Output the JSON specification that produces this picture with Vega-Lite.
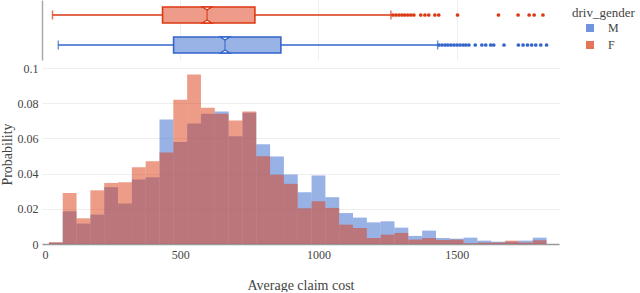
{
  "$schema": "https://vega.github.io/schema/vega-lite/v6.json",
  "padding": {"left": 0, "top": 0, "right": 0, "bottom": 0},
  "background": "white",
  "config": {
    "font": "Liberation Serif",
    "view": {"stroke": null},
    "axis": {"labelFont": "Liberation Serif", "titleFont": "Liberation Serif", "labelColor": "#444", "titleColor": "#444", "labelFontSize": 12, "titleFontSize": 14, "titleFontWeight": "normal"},
    "text": {"font": "Liberation Serif"}
  },
  "resolve": {"scale": {"color": "shared", "x": "shared"}},
  "datasets": {
    "box": [
      {"g": "F", "wlo": 38, "q1": 436, "med": 597, "q3": 770, "whi": 1262},
      {"g": "M", "wlo": 59, "q1": 476, "med": 662, "q3": 864, "whi": 1431}
    ],
    "out": [
      {"g": "F", "v": 1269}, {"g": "F", "v": 1280}, {"g": "F", "v": 1291}, {"g": "F", "v": 1302}, {"g": "F", "v": 1312}, {"g": "F", "v": 1323}, {"g": "F", "v": 1334}, {"g": "F", "v": 1345},
      {"g": "F", "v": 1370}, {"g": "F", "v": 1385}, {"g": "F", "v": 1399}, {"g": "F", "v": 1421}, {"g": "F", "v": 1435},
      {"g": "F", "v": 1503}, {"g": "F", "v": 1651}, {"g": "F", "v": 1722}, {"g": "F", "v": 1762}, {"g": "F", "v": 1780}, {"g": "F", "v": 1812},
      {"g": "M", "v": 1436}, {"g": "M", "v": 1447}, {"g": "M", "v": 1458}, {"g": "M", "v": 1468}, {"g": "M", "v": 1479}, {"g": "M", "v": 1490}, {"g": "M", "v": 1501}, {"g": "M", "v": 1512}, {"g": "M", "v": 1523}, {"g": "M", "v": 1533}, {"g": "M", "v": 1544},
      {"g": "M", "v": 1567}, {"g": "M", "v": 1591}, {"g": "M", "v": 1605}, {"g": "M", "v": 1623}, {"g": "M", "v": 1634}, {"g": "M", "v": 1671},
      {"g": "M", "v": 1723}, {"g": "M", "v": 1740}, {"g": "M", "v": 1756}, {"g": "M", "v": 1771}, {"g": "M", "v": 1786}, {"g": "M", "v": 1804}, {"g": "M", "v": 1825}
    ],
    "hist": [
      {"g": "M", "b0": 25, "b1": 75, "p": 0.0008},
      {"g": "M", "b0": 75, "b1": 125, "p": 0.0186},
      {"g": "M", "b0": 125, "b1": 175, "p": 0.0116},
      {"g": "M", "b0": 175, "b1": 225, "p": 0.0167},
      {"g": "M", "b0": 225, "b1": 275, "p": 0.0323},
      {"g": "M", "b0": 275, "b1": 325, "p": 0.023},
      {"g": "M", "b0": 325, "b1": 375, "p": 0.0366},
      {"g": "M", "b0": 375, "b1": 425, "p": 0.038},
      {"g": "M", "b0": 425, "b1": 475, "p": 0.0708},
      {"g": "M", "b0": 475, "b1": 525, "p": 0.058},
      {"g": "M", "b0": 525, "b1": 575, "p": 0.0685},
      {"g": "M", "b0": 575, "b1": 625, "p": 0.074},
      {"g": "M", "b0": 625, "b1": 675, "p": 0.0753},
      {"g": "M", "b0": 675, "b1": 725, "p": 0.0613},
      {"g": "M", "b0": 725, "b1": 775, "p": 0.0746},
      {"g": "M", "b0": 775, "b1": 825, "p": 0.0567},
      {"g": "M", "b0": 825, "b1": 875, "p": 0.0497},
      {"g": "M", "b0": 875, "b1": 925, "p": 0.0395},
      {"g": "M", "b0": 925, "b1": 975, "p": 0.0294},
      {"g": "M", "b0": 975, "b1": 1025, "p": 0.0389},
      {"g": "M", "b0": 1025, "b1": 1075, "p": 0.0266},
      {"g": "M", "b0": 1075, "b1": 1125, "p": 0.0176},
      {"g": "M", "b0": 1125, "b1": 1175, "p": 0.015},
      {"g": "M", "b0": 1175, "b1": 1225, "p": 0.0123},
      {"g": "M", "b0": 1225, "b1": 1275, "p": 0.0129},
      {"g": "M", "b0": 1275, "b1": 1325, "p": 0.0093},
      {"g": "M", "b0": 1325, "b1": 1375, "p": 0.0046},
      {"g": "M", "b0": 1375, "b1": 1425, "p": 0.0076},
      {"g": "M", "b0": 1425, "b1": 1475, "p": 0.0034},
      {"g": "M", "b0": 1475, "b1": 1525, "p": 0.003},
      {"g": "M", "b0": 1525, "b1": 1575, "p": 0.0036},
      {"g": "M", "b0": 1575, "b1": 1625, "p": 0.0019},
      {"g": "M", "b0": 1625, "b1": 1675, "p": 0.0013},
      {"g": "M", "b0": 1675, "b1": 1725, "p": 0.0013},
      {"g": "M", "b0": 1725, "b1": 1775, "p": 0.0019},
      {"g": "M", "b0": 1775, "b1": 1825, "p": 0.0036},
      {"g": "F", "b0": 25, "b1": 75, "p": 0.001},
      {"g": "F", "b0": 75, "b1": 125, "p": 0.029},
      {"g": "F", "b0": 125, "b1": 175, "p": 0.0146},
      {"g": "F", "b0": 175, "b1": 225, "p": 0.0305},
      {"g": "F", "b0": 225, "b1": 275, "p": 0.0347},
      {"g": "F", "b0": 275, "b1": 325, "p": 0.0351},
      {"g": "F", "b0": 325, "b1": 375, "p": 0.0436},
      {"g": "F", "b0": 375, "b1": 425, "p": 0.047},
      {"g": "F", "b0": 425, "b1": 475, "p": 0.052},
      {"g": "F", "b0": 475, "b1": 525, "p": 0.082},
      {"g": "F", "b0": 525, "b1": 575, "p": 0.0964},
      {"g": "F", "b0": 575, "b1": 625, "p": 0.0774},
      {"g": "F", "b0": 625, "b1": 675, "p": 0.074},
      {"g": "F", "b0": 675, "b1": 725, "p": 0.0702},
      {"g": "F", "b0": 725, "b1": 775, "p": 0.0753},
      {"g": "F", "b0": 775, "b1": 825, "p": 0.0499},
      {"g": "F", "b0": 825, "b1": 875, "p": 0.0393},
      {"g": "F", "b0": 875, "b1": 925, "p": 0.0342},
      {"g": "F", "b0": 925, "b1": 975, "p": 0.0203},
      {"g": "F", "b0": 975, "b1": 1025, "p": 0.0243},
      {"g": "F", "b0": 1025, "b1": 1075, "p": 0.0205},
      {"g": "F", "b0": 1075, "b1": 1125, "p": 0.011},
      {"g": "F", "b0": 1125, "b1": 1175, "p": 0.0091},
      {"g": "F", "b0": 1175, "b1": 1225, "p": 0.0034},
      {"g": "F", "b0": 1225, "b1": 1275, "p": 0.0053},
      {"g": "F", "b0": 1275, "b1": 1325, "p": 0.0063},
      {"g": "F", "b0": 1325, "b1": 1375, "p": 0.0025},
      {"g": "F", "b0": 1375, "b1": 1425, "p": 0.0034},
      {"g": "F", "b0": 1425, "b1": 1475, "p": 0.0023},
      {"g": "F", "b0": 1475, "b1": 1525, "p": 0.0025},
      {"g": "F", "b0": 1525, "b1": 1575, "p": 0.0004},
      {"g": "F", "b0": 1575, "b1": 1625, "p": 0.0008},
      {"g": "F", "b0": 1625, "b1": 1675, "p": 0.0008},
      {"g": "F", "b0": 1675, "b1": 1725, "p": 0.0019},
      {"g": "F", "b0": 1725, "b1": 1775, "p": 0.0008},
      {"g": "F", "b0": 1775, "b1": 1825, "p": 0.0021}
    ]
  },
  "spacing": 2,
  "vconcat": [
    {
      "width": 517,
      "height": 60,
      "encoding": {
        "y": {"field": "g", "type": "nominal", "scale": {"domain": ["F", "M"], "paddingInner": 0, "paddingOuter": 0},
              "axis": {"title": null, "labels": false, "ticks": false, "grid": false, "domain": true, "domainColor": "#aaa", "domainWidth": 1.5}}
      },
      "layer": [
        {
          "data": {"name": "out"},
          "mark": {"type": "point", "filled": true, "size": 14, "opacity": 1},
          "encoding": {
            "x": {"field": "v", "type": "quantitative", "scale": {"domain": [0, 1870], "nice": false, "zero": false},
                  "axis": {"title": null, "labels": false, "ticks": false, "domain": false, "grid": true, "gridColor": "#eee", "values": [500, 1000, 1500]}},
            "color": {"field": "g", "type": "nominal", "scale": {"domain": ["M", "F"], "range": ["#3366CC", "#DC3912"]}, "title": "driv_gender",
                      "legend": {"orient": "right", "titleFont": "Liberation Serif", "labelFont": "Liberation Serif", "titleFontWeight": "normal", "titleFontSize": 13, "labelFontSize": 12, "titleColor": "#444", "labelColor": "#444", "symbolType": "square", "symbolSize": 64, "symbolStrokeWidth": 0, "symbolOpacity": 1, "symbolOffset": 12, "offset": 6, "rowPadding": 5, "padding": 7, "titlePadding": 2, "labelOffset": 12}}
          }
        },
        {
          "data": {"name": "box"},
          "mark": {"type": "rule", "strokeWidth": 1.5},
          "encoding": {
            "x": {"field": "wlo", "type": "quantitative"},
            "x2": {"field": "whi"},
            "color": {"field": "g", "type": "nominal", "title": "driv_gender"}
          }
        },
        {
          "data": {"name": "box"},
          "mark": {"type": "tick", "size": 9, "thickness": 1.5},
          "encoding": {
            "x": {"field": "wlo", "type": "quantitative"},
            "color": {"field": "g", "type": "nominal", "title": "driv_gender"}
          }
        },
        {
          "data": {"name": "box"},
          "mark": {"type": "tick", "size": 9, "thickness": 1.5},
          "encoding": {
            "x": {"field": "whi", "type": "quantitative"},
            "color": {"field": "g", "type": "nominal", "title": "driv_gender"}
          }
        },
        {
          "data": {"name": "box"},
          "mark": {"type": "bar", "size": 16, "strokeWidth": 1.6},
          "encoding": {
            "x": {"field": "q1", "type": "quantitative"},
            "x2": {"field": "q3"},
            "fill": {"field": "g", "type": "nominal", "scale": {"domain": ["M", "F"], "range": ["#99B3E6", "#EE9C89"]}, "legend": null},
            "stroke": {"field": "g", "type": "nominal", "scale": {"domain": ["M", "F"], "range": ["#3366CC", "#DC3912"]}, "legend": null}
          }
        },
        {
          "data": {"name": "box"},
          "mark": {"type": "point", "shape": "M-1,0L0,0.64L1,0Z", "size": 90, "filled": true, "fill": "white", "fillOpacity": 1, "strokeWidth": 1.4, "yOffset": -8, "opacity": 1},
          "encoding": {
            "x": {"field": "med", "type": "quantitative"},
            "stroke": {"field": "g", "type": "nominal", "legend": null}
          }
        },
        {
          "data": {"name": "box"},
          "mark": {"type": "point", "shape": "M-1,0L0,-0.64L1,0Z", "size": 90, "filled": true, "fill": "white", "fillOpacity": 1, "strokeWidth": 1.4, "yOffset": 8, "opacity": 1},
          "encoding": {
            "x": {"field": "med", "type": "quantitative"},
            "stroke": {"field": "g", "type": "nominal", "legend": null}
          }
        },
        {
          "data": {"name": "box"},
          "mark": {"type": "tick", "size": 10, "thickness": 1.5},
          "encoding": {
            "x": {"field": "med", "type": "quantitative"},
            "color": {"field": "g", "type": "nominal", "title": "driv_gender"}
          }
        }
      ]
    },
    {
      "width": 517,
      "height": 180,
      "data": {"name": "hist"},
      "mark": {"type": "rect", "fillOpacity": 0.5},
      "encoding": {
        "x": {"field": "b0", "type": "quantitative", "scale": {"domain": [0, 1870], "nice": false, "zero": false},
              "axis": {"title": "Average claim cost", "values": [0, 500, 1000, 1500], "format": "d", "labelFont": "Liberation Serif", "grid": false, "ticks": false, "domainColor": "#999", "domainWidth": 1.5, "labelPadding": 5, "titlePadding": 18}},
        "x2": {"field": "b1"},
        "y": {"field": "p", "type": "quantitative", "stack": null, "scale": {"domain": [0, 0.1023], "nice": false},
              "axis": {"title": "Probability", "values": [0, 0.02, 0.04, 0.06, 0.08, 0.1], "format": "~g", "labelFont": "Liberation Serif", "grid": true, "gridColor": "#eee", "ticks": false, "domain": false, "labelPadding": 4, "titlePadding": 3}},
        "y2": {"datum": 0},
        "color": {"field": "g", "type": "nominal", "title": "driv_gender", "legend": null}
      }
    }
  ]
}
